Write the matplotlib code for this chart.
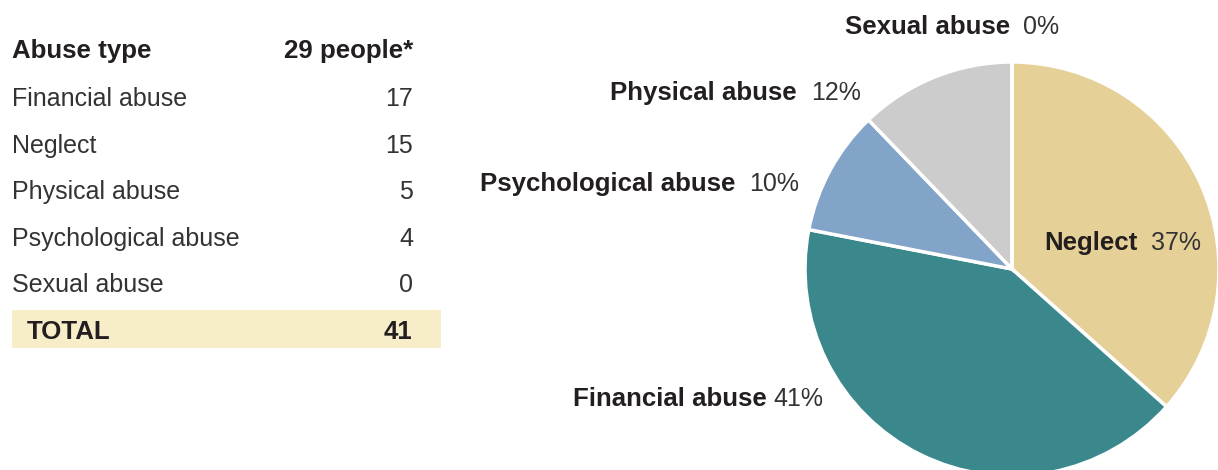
import matplotlib.pyplot as plt
from matplotlib.patches import Rectangle

plt.rcParams['font.family'] = ['Liberation Sans', 'DejaVu Sans']

# abuse types and number of reports
abuse_types = ["Financial abuse", "Neglect", "Physical abuse", "Psychological abuse", "Sexual abuse"]
counts = [17, 15, 5, 4, 0]
people = 29

# pie order, clockwise from 12 o'clock
pie_types = ["Neglect", "Financial abuse", "Psychological abuse", "Physical abuse", "Sexual abuse"]
pie_colors = ["#E5D098", "#3B888C", "#82A4C8", "#CCCCCC", "#CCCCCC"]

W, H = 1218, 470
dark = "#231F20"
grey = "#333333"
fs = 18
fs_bold = 18.6

fig = plt.figure(figsize=(W / 100, H / 100), dpi=100)
fig.patch.set_facecolor('white')

def px(x, y):
    # pixel position (from top-left) -> figure fraction
    return x / W, 1 - y / H

# ---- table on the left ----
fig.add_artist(Rectangle(px(12, 348), (441 - 12) / W, (348 - 310) / H,
                         transform=fig.transFigure, facecolor="#F7EDC9",
                         edgecolor='none', zorder=0))

fig.text(*px(12, 58), "Abuse type", fontsize=fs_bold, fontweight='bold', color=dark, va='baseline')
fig.text(*px(413, 58), f"{people} people*", fontsize=fs_bold, fontweight='bold', color=dark,
         va='baseline', ha='right')

row_base = 106
row_gap = 46.6
for i, (name, n) in enumerate(zip(abuse_types, counts)):
    y = row_base + i * row_gap
    fig.text(*px(12, y), name, fontsize=fs, color=grey, va='baseline')
    fig.text(*px(413, y), str(n), fontsize=fs, color=grey, va='baseline', ha='right')

total = sum(counts)
fig.text(*px(27, 339), "TOTAL", fontsize=fs_bold, fontweight='bold', color=dark, va='baseline')
fig.text(*px(412, 339), str(total), fontsize=fs_bold, fontweight='bold', color=dark,
         va='baseline', ha='right')

# ---- pie on the right ----
pie_counts = [counts[abuse_types.index(t)] for t in pie_types]
cx, cy, r = 1012, 269, 207
ax = fig.add_axes([(cx - r) / W, (H - cy - r) / H, 2 * r / W, 2 * r / H])
ax.pie(pie_counts, colors=pie_colors, startangle=90, counterclock=False, radius=1,
       wedgeprops=dict(edgecolor='white', linewidth=2.5))
ax.set_xlim(-1, 1)
ax.set_ylim(-1, 1)
ax.set_aspect('equal')
ax.axis('off')

# label spots: (right edge of bold name, left edge of percent, baseline)
label_pos = {
    "Sexual abuse": (1010, 1023, 34),
    "Physical abuse": (797, 811, 100),
    "Psychological abuse": (735, 749, 191),
    "Neglect": (1138, 1151, 250),
    "Financial abuse": (767, 773, 406),
}
for t, n in zip(pie_types, pie_counts):
    x_name, x_pct, y = label_pos[t]
    pct = round(100 * n / total)
    fig.text(*px(x_name, y), t, fontsize=fs_bold, fontweight='bold', color=dark,
             va='baseline', ha='right')
    fig.text(*px(x_pct, y), f"{pct}%", fontsize=fs, color=grey, va='baseline', ha='left')

fig.savefig("out.png", dpi=100)
